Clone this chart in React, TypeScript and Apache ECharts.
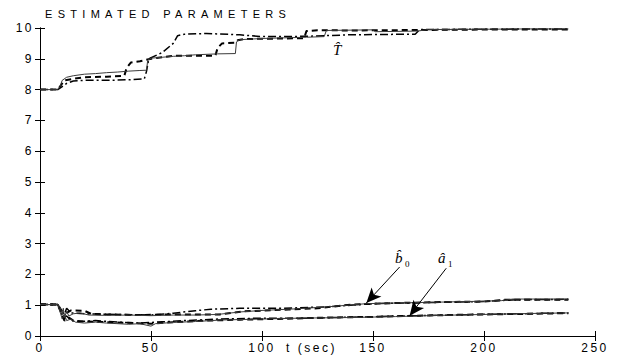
import React, { useEffect, useRef } from "react";
import * as echarts from "echarts";

const TITLE = "ESTIMATED PARAMETERS";
const X_NAME = "t (sec)";
const X_TICKS = [0, 50, 100, 150, 200, 250];
const Y_TICKS = [0, 1, 2, 3, 4, 5, 6, 7, 8, 9, 10];

// T-hat estimates
const T_SOLID: [number, number][] = [
  [0, 8], [8, 8], [9, 8.1], [10, 8.3], [12, 8.4], [15, 8.45], [20, 8.5], [25, 8.52], [30, 8.55],
  [35, 8.57], [40, 8.6], [45, 8.62], [48, 8.63], [48.5, 8.95], [50, 9.02], [55, 9.05], [60, 9.08],
  [65, 9.1], [70, 9.13], [80, 9.16], [88, 9.17], [88.5, 9.55], [90, 9.62], [95, 9.64], [100, 9.66],
  [110, 9.68], [120, 9.7], [128, 9.72], [129, 9.92], [150, 9.94], [151, 9.88], [170, 9.9],
  [175, 9.95], [200, 9.96], [220, 9.97], [238, 9.97],
];
const T_DASHED: [number, number][] = [
  [0, 8], [8, 8], [9.5, 8.15], [11, 8.3], [15, 8.35], [20, 8.4], [30, 8.42], [38, 8.45], [39, 8.7],
  [41, 8.88], [45, 8.92], [50, 9.0], [55, 9.05], [60, 9.1], [70, 9.1], [79, 9.1], [80, 9.35],
  [82, 9.5], [88, 9.52], [89, 9.6], [92, 9.64], [100, 9.65], [110, 9.66], [119, 9.67], [120, 9.9],
  [125, 9.93], [140, 9.92], [160, 9.93], [180, 9.94], [200, 9.95], [238, 9.95],
];
const T_DASHDOT: [number, number][] = [
  [0, 8], [8, 8], [10, 8.1], [12, 8.2], [15, 8.28], [20, 8.3], [30, 8.3], [40, 8.32], [47, 8.35],
  [48, 8.6], [49, 9.0], [55, 9.2], [60, 9.5], [62, 9.75], [65, 9.8], [75, 9.82], [90, 9.78],
  [100, 9.72], [120, 9.73], [140, 9.78], [169, 9.8], [171, 9.95], [200, 9.96], [238, 9.97],
];

// b0-hat estimates
const B0_SOLID: [number, number][] = [
  [0, 1.02], [8, 1.02], [9, 0.95], [10, 0.7], [10.5, 0.9], [11, 0.6], [12, 0.8], [13, 0.65],
  [15, 0.72], [18, 0.75], [22, 0.68], [30, 0.67], [40, 0.68], [50, 0.66], [60, 0.68], [70, 0.68],
  [80, 0.7], [90, 0.78], [100, 0.83], [115, 0.88], [130, 0.95], [147, 1.05], [160, 1.07],
  [180, 1.1], [200, 1.13], [208, 1.15], [213, 1.2], [238, 1.2],
];
const B0_DASHED: [number, number][] = [
  [0, 1.02], [8, 1.02], [9, 0.9], [10, 0.8], [11, 0.55], [12, 0.75], [14, 0.83], [20, 0.82],
  [23, 0.72], [30, 0.7], [45, 0.68], [60, 0.7], [81, 0.7], [92, 0.8], [112, 0.86], [125, 0.9],
  [140, 1.02], [160, 1.07], [180, 1.1], [200, 1.12], [210, 1.18], [238, 1.18],
];
const B0_DASHDOT: [number, number][] = [
  [0, 1.02], [8, 1.02], [9.5, 0.85], [11, 0.7], [12, 0.9], [14, 0.75], [20, 0.72], [35, 0.7],
  [50, 0.68], [60, 0.74], [70, 0.82], [77, 0.87], [90, 0.9], [110, 0.9], [130, 0.95], [150, 1.05],
  [170, 1.08], [200, 1.12], [215, 1.18], [238, 1.19],
];

// a1-hat estimates
const A1_SOLID: [number, number][] = [
  [0, 1.02], [8, 1.02], [9, 0.8], [10, 0.55], [11, 0.7], [12, 0.5], [14, 0.55], [16, 0.45],
  [20, 0.42], [25, 0.45], [30, 0.42], [40, 0.38], [45, 0.4], [50, 0.32], [52, 0.4], [60, 0.44],
  [70, 0.47], [82, 0.52], [100, 0.55], [117, 0.58], [140, 0.6], [160, 0.63], [180, 0.67],
  [200, 0.7], [220, 0.73], [238, 0.75],
];
const A1_DASHED: [number, number][] = [
  [0, 1.02], [8, 1.02], [9.5, 0.75], [11, 0.5], [13, 0.6], [15, 0.5], [20, 0.47], [30, 0.45],
  [42, 0.42], [50, 0.4], [60, 0.45], [75, 0.5], [90, 0.53], [110, 0.56], [130, 0.6], [150, 0.62],
  [170, 0.66], [190, 0.69], [210, 0.71], [238, 0.74],
];
const A1_DASHDOT: [number, number][] = [
  [0, 1.02], [8, 1.02], [9, 0.85], [10.5, 0.6], [12, 0.65], [14, 0.5], [18, 0.47], [25, 0.5],
  [35, 0.45], [45, 0.42], [55, 0.46], [65, 0.5], [80, 0.55], [100, 0.58], [120, 0.58],
  [140, 0.61], [165, 0.65], [185, 0.68], [205, 0.71], [238, 0.75],
];

// annotation arrows: [from, to] in data coordinates
const B0_ARROW: [number, number][] = [[162, 2.24], [147, 1.07]];
const A1_ARROW: [number, number][] = [[183, 2.2], [166.5, 0.66]];

const SOLID_STYLE = { color: "#3a3a3a", width: 1, type: "solid" as const };
const DASHED_STYLE = { color: "#000", width: 2, type: [6, 4] };
const DASHDOT_STYLE = { color: "#000", width: 1.5, type: [8, 3, 2, 3] };

function lineSeries(name: string, data: [number, number][], style: any) {
  return {
    name,
    type: "line",
    data,
    showSymbol: false,
    symbol: "none",
    lineStyle: style,
    z: style.type === "solid" ? 3 : 2,
  };
}

export default function App() {
  const ref = useRef<HTMLDivElement>(null);
  useEffect(() => {
    if (!ref.current) return;
    const chart = echarts.init(ref.current, null, { renderer: "svg" });
    const sans = "Liberation Sans";
    const axisCommon = {
      type: "value",
      min: 0,
      axisLine: { show: true, lineStyle: { color: "#000", width: 1 } },
      axisTick: { show: true, inside: true, length: 5, lineStyle: { color: "#000" } },
      splitLine: { show: false },
    };
    chart.setOption({
      animation: false,
      backgroundColor: "#fff",
      title: {
        text: TITLE,
        left: 40,
        top: 3,
        textStyle: { fontFamily: "Helvetica", fontSize: 11, fontWeight: "normal", color: "#000" },
      },
      grid: { left: 40, right: 30, top: 28, bottom: 21, outerBoundsMode: "none", containLabel: false },
      xAxis: [
        {
          ...axisCommon,
          max: 250,
          interval: 50,
          name: X_NAME,
          nameLocation: "middle",
          nameGap: 6,
          nameMoveOverlap: false,
          nameTextStyle: {
            fontFamily: sans,
            fontSize: 12,
            color: "#000",
            verticalAlign: "top",
            padding: [0, 12, 0, 0],
          },
          axisLabel: {
            margin: 6,
            fontFamily: sans,
            fontSize: 12,
            color: "#000",
            formatter: (v: number) => (X_TICKS.includes(v) ? String(v) : ""),
          },
        },
        {
          ...axisCommon,
          position: "top",
          max: 250,
          interval: 50,
          axisLabel: { show: false },
        },
      ],
      yAxis: [
        {
          ...axisCommon,
          max: 10,
          interval: 1,
          axisLabel: {
            margin: 6,
            fontFamily: sans,
            fontSize: 12,
            color: "#000",
            formatter: (v: number) => (Y_TICKS.includes(v) ? String(v) : ""),
          },
        },
        {
          ...axisCommon,
          position: "right",
          max: 10,
          interval: 1,
          axisLabel: { show: false },
        },
      ],
      series: [
        lineSeries("T dashdot", T_DASHDOT, DASHDOT_STYLE),
        lineSeries("T dashed", T_DASHED, DASHED_STYLE),
        lineSeries("T solid", T_SOLID, SOLID_STYLE),
        lineSeries("b0 dashdot", B0_DASHDOT, DASHDOT_STYLE),
        lineSeries("b0 dashed", B0_DASHED, DASHED_STYLE),
        lineSeries("b0 solid", B0_SOLID, SOLID_STYLE),
        lineSeries("a1 dashdot", A1_DASHDOT, DASHDOT_STYLE),
        lineSeries("a1 dashed", A1_DASHED, DASHED_STYLE),
        lineSeries("a1 solid", A1_SOLID, SOLID_STYLE),
        {
          name: "arrows",
          type: "line",
          data: [],
          markLine: {
            silent: true,
            symbol: ["none", "arrow"],
            symbolSize: [10, 15],
            label: { show: false },
            lineStyle: { color: "#000", width: 1, type: "solid" },
            data: [
              [{ coord: B0_ARROW[0] }, { coord: B0_ARROW[1] }],
              [{ coord: A1_ARROW[0] }, { coord: A1_ARROW[1] }],
            ],
          },
        },
      ],
      graphic: [
        {
          type: "text",
          left: 333,
          top: 42,
          style: { text: "T\u0302", font: "italic 15px 'Liberation Serif'", fill: "#000" },
        },
        {
          type: "text",
          left: 395,
          top: 250,
          style: { text: "b\u0302", font: "italic 15px 'Liberation Serif'", fill: "#000" },
        },
        {
          type: "text",
          left: 405,
          top: 259,
          style: { text: "0", font: "9px 'Liberation Serif'", fill: "#000" },
        },
        {
          type: "text",
          left: 438,
          top: 250,
          style: { text: "\u00e2", font: "italic 15px 'Liberation Serif'", fill: "#000" },
        },
        {
          type: "text",
          left: 448,
          top: 259,
          style: { text: "1", font: "9px 'Liberation Serif'", fill: "#000" },
        },
      ],
    });
    return () => chart.dispose();
  }, []);
  return (
    <>
      <style>{`
        .ec-wrap svg text { letter-spacing: 2.5px; }
        .ec-wrap svg text[style*="Helvetica"] { letter-spacing: 5.3px; }
        .ec-wrap svg text[style*="Serif"] { letter-spacing: 0; }
      `}</style>
      <div
        className="ec-wrap"
        ref={ref}
        style={{ position: "fixed", left: 0, top: 0, width: 625, height: 357 }}
      />
    </>
  );
}
